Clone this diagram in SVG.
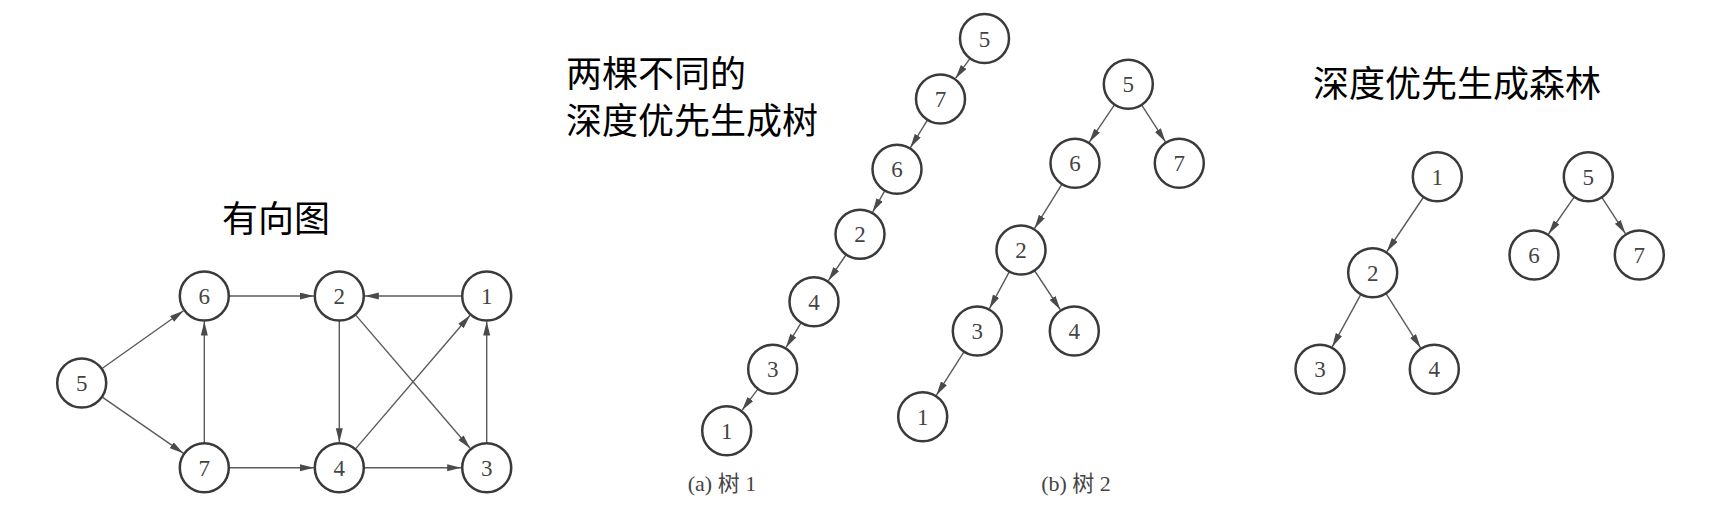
<svg xmlns="http://www.w3.org/2000/svg" width="1726" height="517" viewBox="0 0 1726 517">
<style>
.nd circle{fill:#fff;stroke:#3a3a3a;stroke-width:2.5}
.nd text{font-family:"Liberation Serif",serif;font-size:23px;fill:#444;text-anchor:middle}
.e line{stroke:#5a5a5a;stroke-width:1.4;marker-end:url(#ah)}
.title{font-family:"Noto Sans CJK SC","Noto Sans",sans-serif;font-size:36px;fill:#000}
.cap{font-family:"Liberation Serif","Noto Sans CJK SC",serif;font-size:22px;fill:#444;text-anchor:middle}
</style>
<defs>
<marker id="ah" markerUnits="userSpaceOnUse" markerWidth="14" markerHeight="8" refX="14" refY="3.5" orient="auto">
<path d="M0,0 L14,3.5 L0,7 z" fill="#4a4a4a"/>
</marker>
</defs>
<rect width="1726" height="517" fill="#fff"/>

<text class="title" x="222" y="232">有向图</text>
<text class="title" x="566" y="87">两棵不同的</text>
<text class="title" x="566" y="134">深度优先生成树</text>
<text class="title" x="1313" y="97">深度优先生成森林</text>
<text class="cap" x="722" y="491">(a) 树 1</text>
<text class="cap" x="1076" y="491">(b) 树 2</text>

<g id="connectors" class="e">
<!-- directed graph -->
<line x1="101.7" y1="368.8" x2="183.5" y2="310.8"/>
<line x1="101.9" y1="396.9" x2="183.3" y2="453.2"/>
<line x1="228.8" y1="296" x2="313.8" y2="296"/>
<line x1="462.2" y1="296" x2="364.8" y2="296"/>
<line x1="204.3" y1="443.2" x2="204.3" y2="321.5"/>
<line x1="228.8" y1="467.7" x2="313.8" y2="467.7"/>
<line x1="363.8" y1="467.7" x2="461.2" y2="467.7"/>
<line x1="339.3" y1="320.5" x2="339.3" y2="442.2"/>
<line x1="486.7" y1="443.2" x2="486.7" y2="321.5"/>
<line x1="355.3" y1="314.6" x2="470.1" y2="448.3"/>
<line x1="355.3" y1="449.1" x2="470.1" y2="315.3"/>
<!-- tree 1 -->
<line x1="970.1" y1="58.3" x2="955.5" y2="78.4"/>
<line x1="927.6" y1="119.8" x2="910.4" y2="147.6"/>
<line x1="884.9" y1="190.6" x2="872.6" y2="212.1"/>
<line x1="846.2" y1="254.5" x2="828.4" y2="280.6"/>
<line x1="801.2" y1="322.6" x2="786" y2="347.5"/>
<line x1="758" y1="388.9" x2="742" y2="410.3"/>
<!-- tree 2 -->
<line x1="1114.6" y1="104.6" x2="1089.3" y2="142.2"/>
<line x1="1141.6" y1="104.9" x2="1165.5" y2="141.9"/>
<line x1="1062" y1="184.1" x2="1034.5" y2="228.4"/>
<line x1="1009.4" y1="271.6" x2="989.4" y2="308.6"/>
<line x1="1034.5" y1="270.5" x2="1060.3" y2="309.7"/>
<line x1="964.1" y1="351.7" x2="936.4" y2="395.2"/>
<!-- forest -->
<line x1="1423.6" y1="197" x2="1386.9" y2="251.5"/>
<line x1="1361" y1="294.2" x2="1332.2" y2="346.9"/>
<line x1="1385.9" y1="293.4" x2="1420.6" y2="347.8"/>
<line x1="1574.3" y1="196.8" x2="1548.5" y2="234"/>
<line x1="1601.7" y1="197.2" x2="1625.4" y2="233.6"/>
</g>

<!-- directed graph nodes -->
<g id="g5" class="nd"><circle cx="81.7" cy="383" r="24.5"/><text x="81.7" y="391">5</text></g>
<g id="g6" class="nd"><circle cx="204.3" cy="296" r="24.5"/><text x="204.3" y="304">6</text></g>
<g id="g2" class="nd"><circle cx="339.3" cy="296" r="24.5"/><text x="339.3" y="304">2</text></g>
<g id="g1" class="nd"><circle cx="486.7" cy="296" r="24.5"/><text x="486.7" y="304">1</text></g>
<g id="g7" class="nd"><circle cx="204.3" cy="467.7" r="24.5"/><text x="204.3" y="475.7">7</text></g>
<g id="g4" class="nd"><circle cx="339.3" cy="467.7" r="24.5"/><text x="339.3" y="475.7">4</text></g>
<g id="g3" class="nd"><circle cx="486.7" cy="467.7" r="24.5"/><text x="486.7" y="475.7">3</text></g>

<!-- tree 1 nodes -->
<g id="a5" class="nd"><circle cx="984.5" cy="38.5" r="24.5"/><text x="984.5" y="46.5">5</text></g>
<g id="a7" class="nd"><circle cx="940.5" cy="99" r="24.5"/><text x="940.5" y="107">7</text></g>
<g id="a6" class="nd"><circle cx="897" cy="169.3" r="24.5"/><text x="897" y="177.3">6</text></g>
<g id="a2" class="nd"><circle cx="860" cy="234.3" r="24.5"/><text x="860" y="242.3">2</text></g>
<g id="a4" class="nd"><circle cx="814" cy="301.7" r="24.5"/><text x="814" y="309.7">4</text></g>
<g id="a3" class="nd"><circle cx="772.7" cy="369.3" r="24.5"/><text x="772.7" y="377.3">3</text></g>
<g id="a1" class="nd"><circle cx="726.7" cy="430.7" r="24.5"/><text x="726.7" y="438.7">1</text></g>

<!-- tree 2 nodes -->
<g id="b5" class="nd"><circle cx="1128.3" cy="84.3" r="24.5"/><text x="1128.3" y="92.3">5</text></g>
<g id="b6" class="nd"><circle cx="1075" cy="163.3" r="24.5"/><text x="1075" y="171.3">6</text></g>
<g id="b7" class="nd"><circle cx="1179.3" cy="163.3" r="24.5"/><text x="1179.3" y="171.3">7</text></g>
<g id="b2" class="nd"><circle cx="1021" cy="250" r="24.5"/><text x="1021" y="258">2</text></g>
<g id="b3" class="nd"><circle cx="977.3" cy="331" r="24.5"/><text x="977.3" y="339">3</text></g>
<g id="b4" class="nd"><circle cx="1074.3" cy="331" r="24.5"/><text x="1074.3" y="339">4</text></g>
<g id="b1" class="nd"><circle cx="922.7" cy="416.7" r="24.5"/><text x="922.7" y="424.7">1</text></g>

<!-- forest nodes -->
<g id="f1" class="nd"><circle cx="1437.3" cy="176.7" r="24.5"/><text x="1437.3" y="184.7">1</text></g>
<g id="f2" class="nd"><circle cx="1372.7" cy="272.7" r="24.5"/><text x="1372.7" y="280.7">2</text></g>
<g id="f3" class="nd"><circle cx="1320" cy="369.3" r="24.5"/><text x="1320" y="377.3">3</text></g>
<g id="f4" class="nd"><circle cx="1434.3" cy="369.3" r="24.5"/><text x="1434.3" y="377.3">4</text></g>
<g id="f5" class="nd"><circle cx="1588.3" cy="176.7" r="24.5"/><text x="1588.3" y="184.7">5</text></g>
<g id="f6" class="nd"><circle cx="1534" cy="255" r="24.5"/><text x="1534" y="263">6</text></g>
<g id="f7" class="nd"><circle cx="1639.3" cy="255" r="24.5"/><text x="1639.3" y="263">7</text></g>
</svg>
